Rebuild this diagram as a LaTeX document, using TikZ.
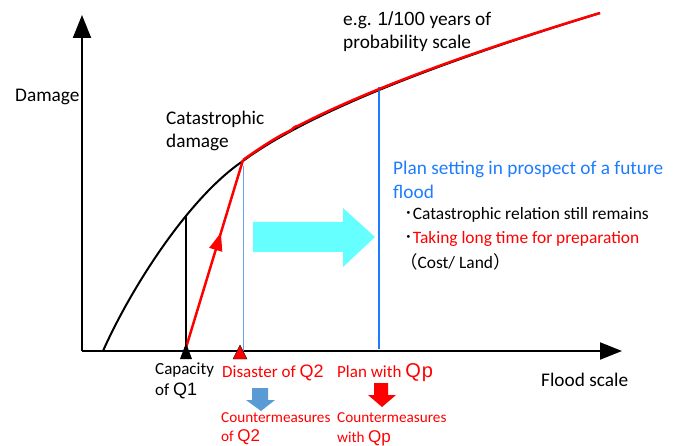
\documentclass[tikz,border=0pt]{standalone}
\usepackage{fontspec}
\setmainfont{Carlito}
\newfontfamily\qf{Liberation Sans}
\newfontfamily\jp{Noto Sans CJK JP}
\usetikzlibrary{arrows.meta,decorations.markings}
\definecolor{tblue}{RGB}{30,125,255}
\definecolor{lblue}{RGB}{110,160,230}
\definecolor{cyanar}{RGB}{102,255,255}
\definecolor{sblue}{RGB}{91,155,213}
\definecolor{tred}{RGB}{255,0,0}
\tikzset{
  lbl/.style={inner sep=0pt,anchor=west,font=\fontsize{19.3}{23}\selectfont},
  slbl/.style={inner sep=0pt,anchor=west,font=\fontsize{17}{21}\selectfont},
  blbl/.style={inner sep=0pt,anchor=west,font=\fontsize{17.4}{21}\selectfont},
  cmlbl/.style={inner sep=0pt,anchor=west,font=\fontsize{15.2}{19}\selectfont,text=tred},
  axis/.style={line width=2pt,draw=black},
}
\begin{document}
\begin{tikzpicture}[x=1pt,y=-1pt]
\useasboundingbox (0,0) rectangle (688,446);
% axes
\coordinate (O) at (82,351);
\coordinate (Ytip) at (82,15);
\coordinate (Xtip) at (622,351);
\draw[axis,-{Triangle[length=23pt,width=18pt]}] (O) -- (Ytip);
\draw[axis,-{Triangle[length=22pt,width=17pt]}] (O) -- (Xtip);
% black damage curve
\coordinate (d0) at (103,351);
\coordinate (d1) at (243,161);
\coordinate (d2) at (600,13);
\draw[line width=2pt,black] (d0) .. controls (130,290) and (188,198) .. (d1)
   .. controls (320,104) and (480,50) .. (d2);
% black capacity line
\coordinate (c1) at (186,215.5);
\coordinate (c1b) at (186,351);
\draw[line width=2pt,black] (c1) -- (c1b);
% thin light blue line
\coordinate (q2t) at (243,166);
\coordinate (q2b) at (243,351);
\draw[line width=1pt,lblue] (q2t) -- (q2b);
% blue plan line
\coordinate (qpt) at (379,87);
\coordinate (qpb) at (379,349);
\draw[line width=2.5pt,tblue] (qpt) -- (qpb);
% red curve
\coordinate (r0) at (185,351);
\coordinate (r1) at (243,160);
\draw[line width=2.5pt,tred,decoration={markings,mark=at position 0.62 with {\arrow{Triangle[length=18pt,width=13pt]}}},postaction={decorate}] (r0) -- (r1);
\draw[line width=2.5pt,tred,line join=round] (r1) .. controls (259,148.6) and (276,137.4) .. (289,131.2)
   .. controls (294,129.2) and (293,126.4) .. (298.2,125.8)
   .. controls (382.4,82.3) and (504,42) .. (d2);
% cyan arrow
\fill[cyanar] (253,222) -- (343,222) -- (343,208) -- (375,237) -- (343,267) -- (343,252) -- (253,252) -- cycle;
% triangles on axis
\fill[black] (186,343) -- (192,359) -- (180,359) -- cycle;
\fill[tred,draw=black,line width=0.4pt] (240,345) -- (247,359) -- (233,359) -- cycle;
% down arrows
\fill[sblue] (252,388) -- (268,388) -- (268,400) -- (275,400) -- (261,411) -- (246,400) -- (252,400) -- cycle;
\fill[tred] (374,383) -- (388,383) -- (388,395) -- (396,395) -- (382,407) -- (368,395) -- (374,395) -- cycle;
% labels
\node[lbl] (dmg) at (15,97) {Damage};
\node[lbl] (cat1) at (166,119) {Catastrophic};
\node[lbl] (cat2) at (166,142) {damage};
\node[lbl] (eg1) at (343,20) {e.g. {\qf\fontsize{19}{23}\selectfont 1/100} years of};
\node[lbl] (eg2) at (343,43) {probability scale};
\node[lbl,text=tblue] (pl1) at (393,169) {Plan setting in prospect of a future};
\node[lbl,text=tblue] (pl2) at (393,192) {flood};
\node[blbl] (b1) at (404,215) {{\jp ･}Catastrophic relation still remains};
\node[blbl,text=tred] (b2) at (404,239) {{\jp\color{black}･}Taking long time for preparation};
\node[blbl] (b3) at (400,262) {{\jp （}Cost/ Land{\jp ）}};
\node[slbl] (cap1) at (155,370) {Capacity};
\node[slbl] (cap2) at (155,391) {of {\qf\fontsize{18}{21}\selectfont Q1}};
\node[slbl,text=tred] (dis) at (222,373) {Disaster of {\qf\fontsize{18}{21}\selectfont Q2}};
\node[slbl,text=tred] (plq) at (337,373) {Plan with {\qf\fontsize{20}{21}\selectfont Q\kern1pt p}};
\node[lbl] (fs) at (541,380) {Flood scale};
\node[cmlbl] (cm1) at (221,418) {Countermeasures};
\node[cmlbl] (cm2) at (221,437) {of {\qf\fontsize{17}{20}\selectfont Q2}};
\node[cmlbl] (cm3) at (337,418) {Countermeasures};
\node[cmlbl] (cm4) at (337,438) {with {\qf\fontsize{17}{20}\selectfont Qp}};
\end{tikzpicture}
\end{document}
